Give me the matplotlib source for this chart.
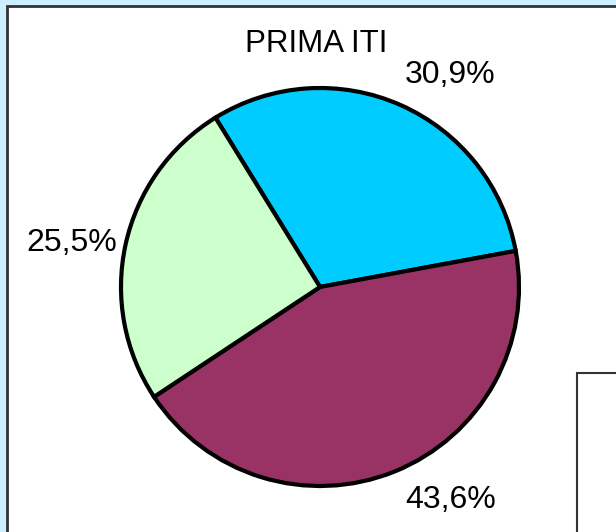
import matplotlib.pyplot as plt
from matplotlib.patches import Rectangle

# slice data, clockwise from the upper-left boundary
SHARES = [30.9, 43.6, 25.5]
LABELS = ["30,9%", "43,6%", "25,5%"]
COLORS = ["#00ccff", "#993366", "#ccffcc"]
TITLE = "PRIMA ITI"

W, H = 616, 532
plt.rcParams["font.family"] = ["Liberation Sans", "DejaVu Sans"]

fig = plt.figure(figsize=(W / 100, H / 100), dpi=100)
fig.patch.set_facecolor("#cceeff")

# white chart area with dark frame, running off the right/bottom edges
fig.patches.append(Rectangle((7 / W, -0.1), 1.2, 1.1 - 6 / H,
                             transform=fig.transFigure, facecolor="white",
                             edgecolor="#333333", linewidth=2, zorder=0))
# second (legend) box in the lower right corner
fig.patches.append(Rectangle((577 / W, -0.1), 0.2, 0.1 + (H - 373) / H,
                             transform=fig.transFigure, facecolor="white",
                             edgecolor="#333333", linewidth=1.5, zorder=1))

cx, cy, r = 320, 287, 199
ax = fig.add_axes([(cx - r) / W, (H - cy - r) / H, 2 * r / W, 2 * r / H])
ax.set_zorder(2)
ax.patch.set_alpha(0)

wedges, texts = ax.pie(SHARES, colors=COLORS, labels=LABELS, startangle=121.7,
                       counterclock=False, labeldistance=1.25,
                       wedgeprops=dict(edgecolor="black", linewidth=3),
                       textprops=dict(fontsize=23))
ax.set_xlim(-1, 1)
ax.set_ylim(-1, 1)
ax.set_aspect("equal")

# nudge labels to where the original places them
label_pos = [(0.655, 1.065), (0.655, -1.07), (-1.245, 0.22)]
for t, (x, y) in zip(texts, label_pos):
    t.set_position((x, y))
    t.set_ha("center")
    t.set_va("center")

fig.text(316 / W, 1 - 44 / H, TITLE, ha="center", va="center", fontsize=22.5)

fig.savefig("out.png", dpi=100, facecolor=fig.get_facecolor())
